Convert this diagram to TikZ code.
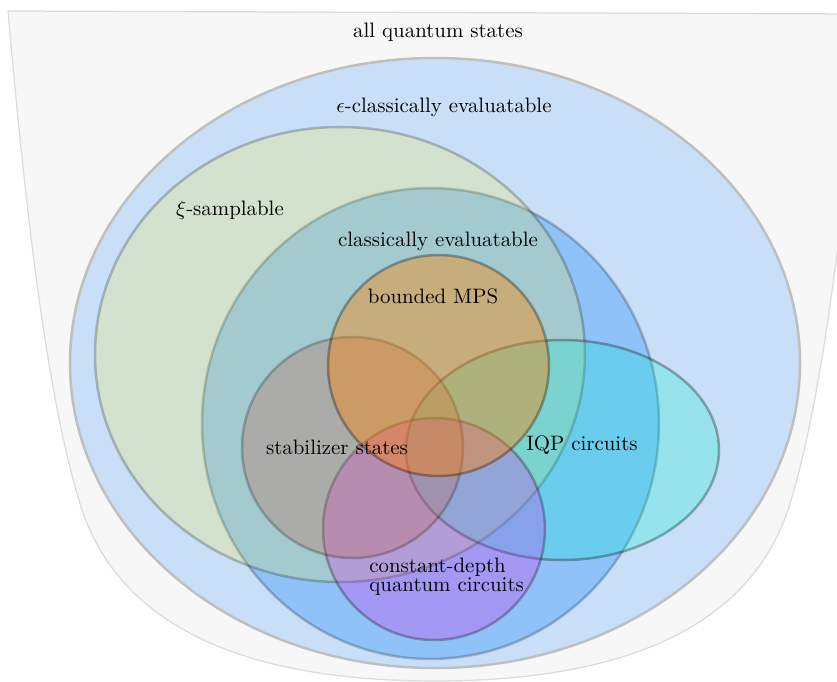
\documentclass[tikz,border=0pt]{standalone}
\definecolor{epsfill}{RGB}{201,223,247}
\definecolor{clfill}{RGB}{143,194,248}
\definecolor{xifill}{RGB}{255,240,25}
\definecolor{stabfill}{RGB}{192,105,84}
\definecolor{mpsfill}{RGB}{255,128,0}
\definecolor{iqpfill}{RGB}{0,240,210}
\definecolor{cdfill}{RGB}{225,30,235}
\begin{document}
\begin{tikzpicture}[x=0.479pt,y=-0.479pt,
  setline/.style={line width=1.2pt, draw=black, draw opacity=0.22},
  lab/.style={inner sep=0pt}]
\useasboundingbox (0,0) rectangle (837,682);
% all quantum states
\path[fill=black!3, draw=black!14, line width=0.6pt]
  (8,11) -- (862,14)
  .. controls (842,240) and (820,410) .. (788,510)
  .. controls (742,645) and (590,681) .. (435,681)
  .. controls (280,681) and (128,645) .. (82,510)
  .. controls (50,410) and (28,240) .. (8,11) -- cycle;
% sets
\path[line width=1.2pt, draw=black!25, fill=epsfill] (435,363) ellipse [x radius=365, y radius=305];
\path[setline, fill=clfill] (430.5,423.5) ellipse [x radius=228.5, y radius=235.5];
\path[setline, fill=xifill, fill opacity=0.18] (340,354.5) ellipse [x radius=245, y radius=227.5];
\path[setline, draw opacity=0.3, fill=iqpfill, fill opacity=0.25] (562.5,450) ellipse [x radius=156.5, y radius=110];
\path[setline, draw opacity=0.28, fill=cdfill, fill opacity=0.25] (434,529) ellipse [x radius=111, y radius=111];
\path[setline, fill=stabfill, fill opacity=0.3] (352.5,447.5) ellipse [x radius=110.5, y radius=110.5];
\path[setline, draw opacity=0.3, fill=mpsfill, fill opacity=0.4] (438.5,365.5) ellipse [x radius=110.5, y radius=110.5];
% labels
\node[lab] (allq) at (438,32) {all quantum states};
\node[lab] (epsl) at (444,107) {$\epsilon$-classically evaluatable};
\node[lab] (xil) at (230,210) {$\xi$-samplable};
\node[lab] (cll) at (438,241) {classically evaluatable};
\node[lab] (mpsl) at (433,296) {bounded MPS};
\node[lab] (stabl) at (337,447) {stabilizer states};
\node[lab] (iqpl) at (582,445) {IQP circuits};
\node[lab, align=left, anchor=west] (cdl) at (369,577) {constant-depth\\[-3pt]quantum circuits};
\end{tikzpicture}
\end{document}
